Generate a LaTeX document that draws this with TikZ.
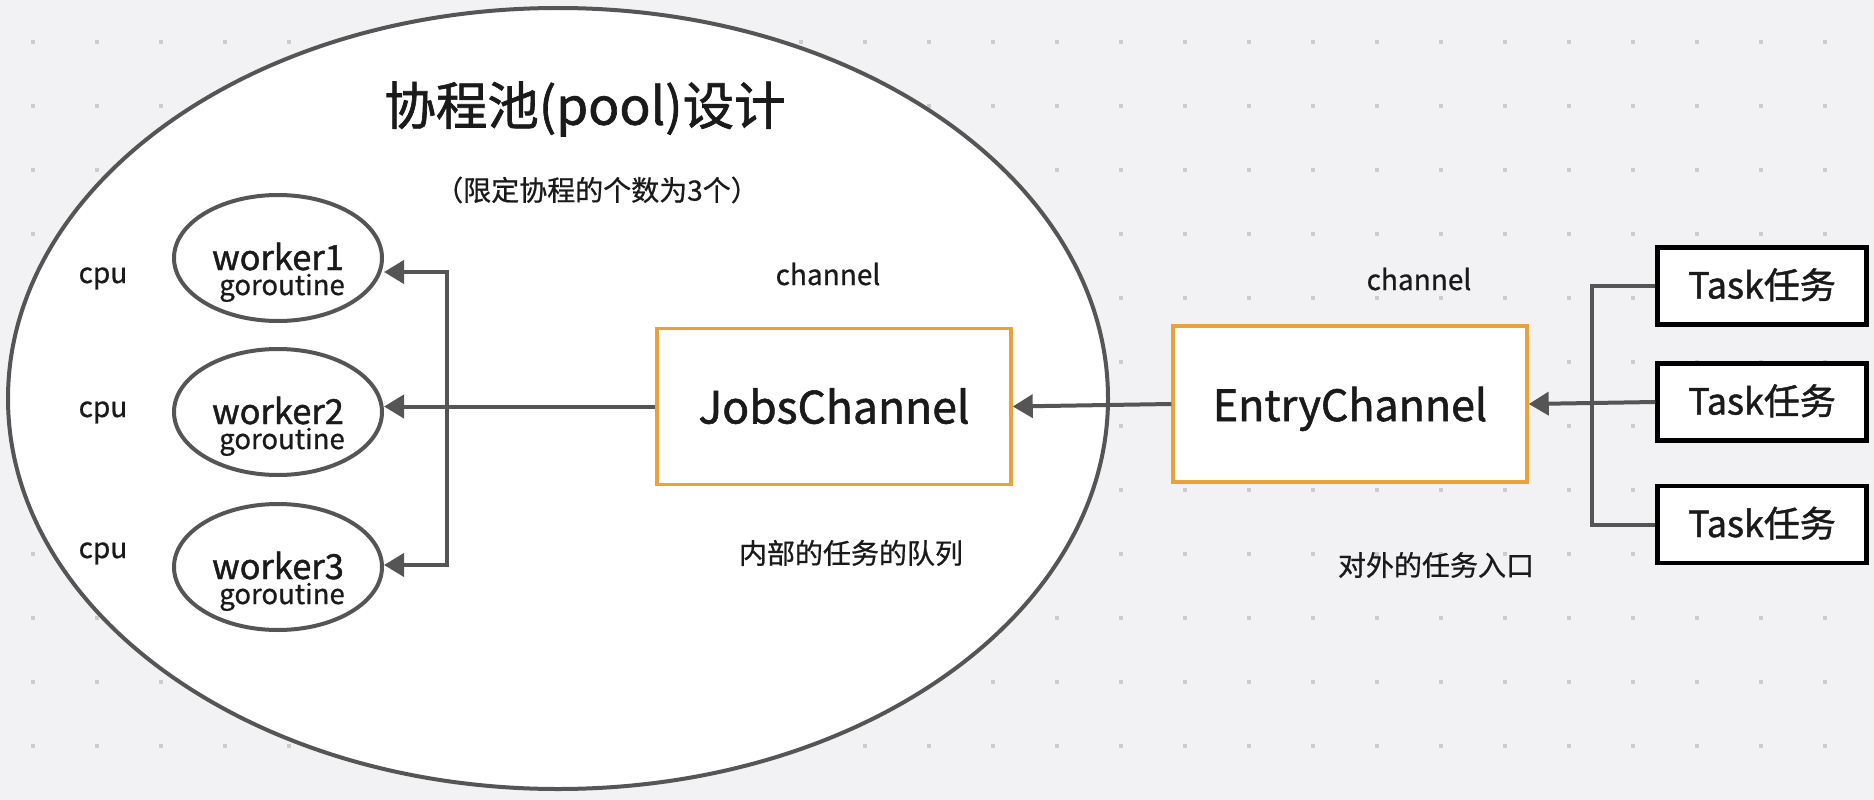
\documentclass[tikz,border=0pt]{standalone}
\usepackage{fontspec}
\newfontfamily\cjk[FakeBold=0.7]{Noto Sans CJK SC}
\newfontfamily\cjkh[FakeBold=1.3]{Noto Sans CJK SC}
\usetikzlibrary{arrows.meta,shapes.geometric}
\definecolor{bg}{HTML}{F2F2F4}
\definecolor{dotc}{HTML}{CCCCCC}
\definecolor{edge}{HTML}{555555}
\definecolor{orng}{HTML}{E9A23B}
\definecolor{ink}{HTML}{1A1A1A}
\begin{document}
\begin{tikzpicture}[x=1pt,y=-1pt,
  txt/.style={text=ink, inner sep=0pt},
  lbl/.style={txt, font=\cjk\fontsize{28}{30}\selectfont},
  conn/.style={draw=edge, line width=4pt},
  arr/.style={conn, -{Triangle[length=20pt,width=23pt]}},
  chanbox/.style={draw=orng, line width=3.5pt, fill=white, minimum width=354pt, minimum height=156pt, inner sep=0pt, text=ink, text height=34pt, text depth=0pt},
  taskbox/.style={draw=black, line width=4.5pt, fill=white, minimum width=209pt, minimum height=77pt, inner sep=0pt, text=ink, font=\cjkh\fontsize{36}{40}\selectfont, text height=25pt, text depth=0pt},
  workerell/.style={ellipse, draw=edge, line width=4pt, fill=white, minimum width=208pt, minimum height=126pt, inner sep=0pt},
  wname/.style={txt, anchor=base, font=\cjkh\fontsize{34.5}{40}\selectfont},
  wsub/.style={txt, anchor=base, font=\cjk\fontsize{27.5}{30}\selectfont}
]
\fill[bg] (0,0) rectangle (1874,800);
\useasboundingbox (0,0) rectangle (1874,800);
\foreach \i in {0,...,28}{
  \foreach \j in {0,...,11}{
    \fill[dotc] ({31+64*\i},{44+64*\j}) rectangle ++(4,-4);
  }
}
% pool ellipse
\node[ellipse, draw=edge, line width=4pt, fill=white, minimum width=1100pt, minimum height=781pt, inner sep=0pt] (pool) at (558,398.5) {};

% titles
\node[txt, font=\cjkh\fontsize{51.5}{58}\selectfont] (title) at (585,109) {协程池(pool)设计};
\node[txt, font=\cjk\fontsize{28}{30}\selectfont] (sub) at (597,190) {（限定协程的个数为3个）};

% workers
\node[workerell] (w1) at (278,258) {};
\node[workerell] (w2) at (278,412) {};
\node[workerell] (w3) at (278,567) {};
\node[wname] (w1a) at (278,270) {worker1};
\node[wsub] (w1b) at (282,295) {goroutine};
\node[wname] (w2a) at (278,424) {worker2};
\node[wsub] (w2b) at (282,449) {goroutine};
\node[wname] (w3a) at (278,579) {worker3};
\node[wsub] (w3b) at (282,604) {goroutine};

% cpu labels
\node[lbl, anchor=base] (cpu1) at (103,283) {cpu};
\node[lbl, anchor=base] (cpu2) at (103,417) {cpu};
\node[lbl, anchor=base] (cpu3) at (103,558) {cpu};

% channel boxes
\node[chanbox, font=\cjkh\fontsize{44.5}{50}\selectfont] (jobs) at (834,406.5) {JobsChannel};
\node[chanbox, font=\cjkh\fontsize{43}{50}\selectfont] (entry) at (1350,404) {EntryChannel};
\node[lbl, anchor=base] (ch1) at (828,285) {channel};
\node[lbl, anchor=base] (ch2) at (1419,290) {channel};
\node[lbl] (jobsdesc) at (851,553) {内部的任务的队列};
\node[lbl] (entrydesc) at (1436,565) {对外的任务入口};

% tasks
\node[taskbox] (t1) at (1762,286) {Task任务};
\node[taskbox] (t2) at (1762,402) {Task任务};
\node[taskbox] (t3) at (1762,524.5) {Task任务};

% worker connectors
\coordinate (b1) at (447,272);
\coordinate (b2) at (447,406.5);
\coordinate (b3) at (447,565);
\draw[conn, {Triangle[length=20pt,width=23pt]}-{Triangle[length=20pt,width=23pt]}] (b1 -| w1.east) -- (b1) -- (b3) -- (b3 -| w3.east);
\draw[arr] (b2) -- (b2 -| w2.east);
\draw[conn] (jobs.west) -- (b2);

% channel connectors
\draw[arr] (entry.west) -- (jobs.east);
\draw[arr] (t2.west) -- (entry.east);

% task bracket
\coordinate (k1) at (1592,286);
\coordinate (k3) at (1592,524.5);
\draw[conn] (t1.west) -- (k1) -- (k3) -- (t3.west);
\end{tikzpicture}
\end{document}
